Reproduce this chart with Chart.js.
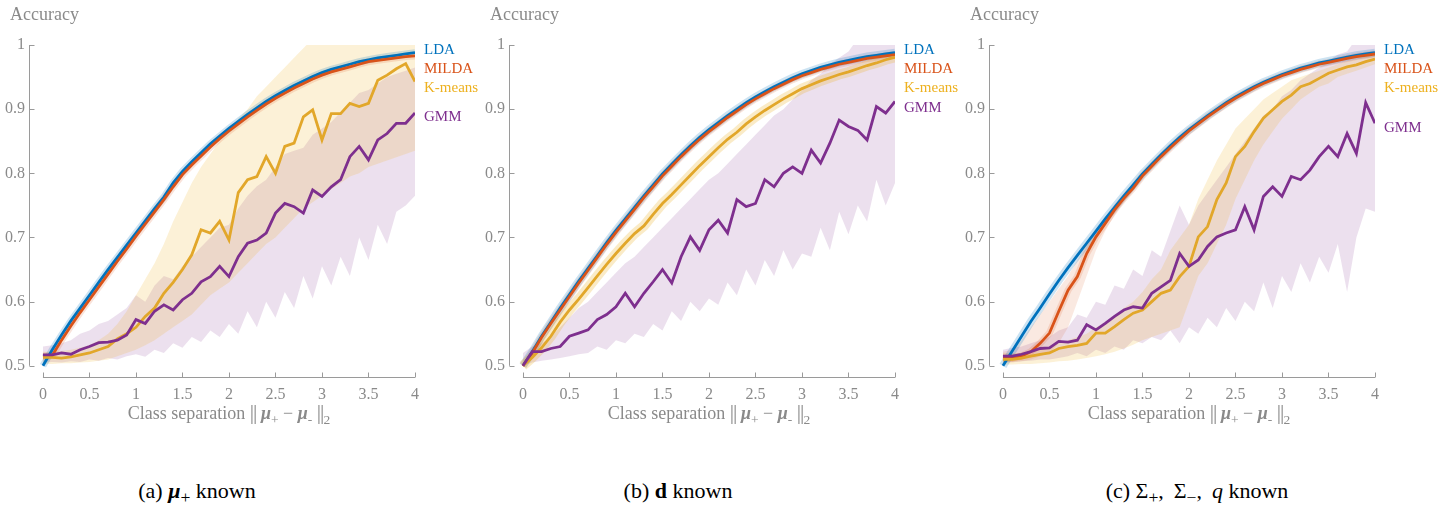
<!DOCTYPE html>
<html>
<head>
<meta charset="utf-8">
<script src="https://cdn.jsdelivr.net/npm/chart.js@4.4.1/dist/chart.umd.min.js"></script>
<style>
    body { margin: 0; background: #fff; width: 1455px; height: 508px; position: relative; overflow: hidden; font-family: "Liberation Serif", serif; }
    .panel { position: absolute; top: 0; width: 480px; height: 440px; }
    .panel canvas { position: absolute; left: 0; top: 0; }
    .ytitle { position: absolute; left: 10px; top: 4px; font-size: 18px; color: #8a8a8a; }
    .xtitle { position: absolute; left: 43px; top: 402px; width: 372px; text-align: center; font-size: 18px; color: #8a8a8a; white-space: nowrap; }
    .xtitle sub { font-size: 75%; }
    .xtitle .norm { font-size: 120%; letter-spacing: -1px; line-height: 1; }
    .cap sub { font-size: 80%; }
    .cap { position: absolute; top: 478px; width: 400px; text-align: center; font-size: 22px; color: #000; white-space: nowrap; }
</style>
</head>
<body>

<div class="panel" style="left:0px">
    <canvas id="chartA" width="480" height="440"></canvas>
    <div class="ytitle">Accuracy</div>
    <div class="xtitle">Class separation <span class="norm">||</span> <b><i>μ</i></b><sub>+</sub> − <b><i>μ</i></b><sub>-</sub> <span class="norm">||</span><sub>2</sub></div>
</div>
<div class="panel" style="left:480px">
    <canvas id="chartB" width="480" height="440"></canvas>
    <div class="ytitle">Accuracy</div>
    <div class="xtitle">Class separation <span class="norm">||</span> <b><i>μ</i></b><sub>+</sub> − <b><i>μ</i></b><sub>-</sub> <span class="norm">||</span><sub>2</sub></div>
</div>
<div class="panel" style="left:960px">
    <canvas id="chartC" width="480" height="440"></canvas>
    <div class="ytitle">Accuracy</div>
    <div class="xtitle">Class separation <span class="norm">||</span> <b><i>μ</i></b><sub>+</sub> − <b><i>μ</i></b><sub>-</sub> <span class="norm">||</span><sub>2</sub></div>
</div>

<div class="cap" style="left:-3px">(a) <b><i>μ</i></b><sub>+</sub> known</div>
<div class="cap" style="left:478px">(b) <b>d</b> known</div>
<div class="cap" style="left:997px">(c) Σ<sub>+</sub>, &thinsp;Σ<sub>−</sub>, &thinsp;<i>q</i> known</div>

<script>
// ---- data ----
const xs = [0, 0.1, 0.2, 0.3, 0.4, 0.5, 0.6, 0.7, 0.8, 0.9, 1, 1.1, 1.2, 1.3, 1.4, 1.5, 1.6, 1.7, 1.8, 1.9, 2,
            2.1, 2.2, 2.3, 2.4, 2.5, 2.6, 2.7, 2.8, 2.9, 3, 3.1, 3.2, 3.3, 3.4, 3.5, 3.6, 3.7, 3.8, 3.9, 4];
const xTicks = [0, 0.5, 1, 1.5, 2, 2.5, 3, 3.5, 4];
const yTicks = [0.5, 0.6, 0.7, 0.8, 0.9, 1];
const methods = ["LDA", "MILDA", "K-means", "GMM"];

// (a) mu+ known
const ldaA = [0.500,0.525,0.548,0.570,0.590,0.610,0.630,0.650,0.669,0.688,0.707,0.726,0.745,0.763,0.785,0.803,0.818,0.832,0.846,0.858,0.870,0.881,0.892,0.902,0.912,0.921,0.929,0.937,0.944,0.951,0.957,0.962,0.966,0.970,0.974,0.977,0.980,0.982,0.984,0.986,0.988];
const mildaA = [0.515,0.516,0.540,0.562,0.583,0.603,0.623,0.643,0.663,0.682,0.702,0.721,0.740,0.759,0.779,0.798,0.813,0.827,0.841,0.854,0.866,0.877,0.888,0.898,0.908,0.917,0.925,0.933,0.940,0.947,0.953,0.958,0.962,0.966,0.970,0.974,0.976,0.978,0.980,0.982,0.983];
const kmeansA = [0.513,0.513,0.512,0.514,0.517,0.520,0.525,0.530,0.542,0.550,0.560,0.577,0.590,0.613,0.630,0.650,0.673,0.712,0.707,0.725,0.696,0.770,0.790,0.795,0.826,0.800,0.842,0.847,0.888,0.899,0.852,0.893,0.893,0.909,0.904,0.909,0.945,0.953,0.963,0.971,0.943];
const gmmA = [0.517,0.517,0.520,0.518,0.525,0.530,0.536,0.537,0.540,0.548,0.572,0.566,0.585,0.595,0.587,0.603,0.613,0.631,0.639,0.655,0.639,0.670,0.691,0.696,0.707,0.738,0.753,0.748,0.738,0.774,0.764,0.779,0.790,0.826,0.842,0.821,0.852,0.862,0.878,0.878,0.894];
const kmeansHiA = [0.522,0.522,0.523,0.525,0.528,0.532,0.540,0.550,0.565,0.585,0.610,0.635,0.660,0.690,0.725,0.755,0.785,0.810,0.830,0.850,0.865,0.885,0.900,0.920,0.935,0.950,0.965,0.980,0.995,1.01,1.01,1.01,1.01,1.01,1.01,1.01,1.01,1.01,1.01,1.01,1.01];
const kmeansLoA = [0.503,0.503,0.504,0.504,0.505,0.506,0.508,0.510,0.515,0.520,0.525,0.532,0.540,0.550,0.560,0.570,0.580,0.595,0.610,0.620,0.630,0.645,0.660,0.675,0.690,0.700,0.715,0.730,0.745,0.755,0.765,0.775,0.785,0.795,0.800,0.810,0.815,0.820,0.825,0.830,0.835];
const gmmHiA = [0.530,0.532,0.535,0.540,0.550,0.555,0.565,0.570,0.580,0.590,0.610,0.600,0.625,0.640,0.635,0.655,0.670,0.685,0.700,0.715,0.720,0.745,0.765,0.780,0.790,0.810,0.830,0.835,0.840,0.860,0.870,0.880,0.895,0.910,0.925,0.930,0.940,0.950,0.955,0.960,0.965];
const gmmLoA = [0.505,0.506,0.505,0.507,0.506,0.510,0.508,0.512,0.510,0.515,0.518,0.514,0.525,0.520,0.535,0.528,0.545,0.537,0.555,0.545,0.565,0.550,0.585,0.560,0.600,0.575,0.615,0.590,0.640,0.605,0.655,0.625,0.670,0.640,0.700,0.665,0.720,0.690,0.740,0.750,0.765];
const labelYA = [0.992, 0.963, 0.933, 0.888];

// (b) d known
const ldaB = [0.500,0.522,0.546,0.568,0.590,0.611,0.632,0.652,0.672,0.692,0.711,0.729,0.747,0.765,0.782,0.799,0.814,0.829,0.843,0.856,0.868,0.879,0.890,0.900,0.910,0.919,0.927,0.935,0.942,0.949,0.955,0.960,0.965,0.969,0.973,0.976,0.979,0.982,0.984,0.986,0.988];
const mildaB = [0.500,0.520,0.544,0.566,0.587,0.608,0.629,0.649,0.669,0.689,0.708,0.726,0.744,0.762,0.779,0.796,0.811,0.826,0.840,0.853,0.865,0.876,0.887,0.897,0.907,0.916,0.924,0.932,0.939,0.946,0.952,0.957,0.962,0.966,0.970,0.973,0.976,0.979,0.981,0.983,0.985];
const kmeansB = [0.500,0.513,0.528,0.546,0.568,0.587,0.604,0.622,0.640,0.658,0.675,0.691,0.706,0.718,0.736,0.753,0.767,0.782,0.797,0.812,0.826,0.840,0.853,0.864,0.877,0.888,0.898,0.907,0.916,0.924,0.932,0.938,0.944,0.949,0.954,0.958,0.963,0.968,0.972,0.977,0.981];
const gmmB = [0.500,0.522,0.522,0.527,0.530,0.546,0.551,0.556,0.572,0.580,0.592,0.613,0.592,0.613,0.631,0.650,0.629,0.670,0.701,0.680,0.712,0.727,0.707,0.759,0.748,0.753,0.790,0.779,0.800,0.810,0.800,0.836,0.816,0.847,0.883,0.873,0.867,0.852,0.904,0.894,0.912];
const gmmHiB = [0.520,0.530,0.535,0.545,0.560,0.575,0.590,0.600,0.615,0.630,0.645,0.660,0.670,0.685,0.700,0.715,0.730,0.745,0.760,0.775,0.790,0.800,0.815,0.830,0.845,0.860,0.875,0.890,0.900,0.915,0.930,0.945,0.955,0.970,0.980,0.990,1.01,1.01,1.01,1.01,1.01];
const gmmLoB = [0.500,0.505,0.508,0.510,0.512,0.515,0.518,0.520,0.530,0.525,0.540,0.535,0.550,0.545,0.565,0.555,0.585,0.570,0.600,0.585,0.605,0.595,0.630,0.610,0.650,0.625,0.665,0.640,0.680,0.650,0.675,0.670,0.715,0.680,0.740,0.705,0.750,0.725,0.790,0.750,0.785];
const labelYB = [0.992, 0.963, 0.933, 0.902];

// (c) Sigma+, Sigma-, q known
const ldaC = [0.500,0.523,0.546,0.569,0.590,0.612,0.633,0.653,0.672,0.691,0.710,0.729,0.747,0.765,0.782,0.799,0.814,0.829,0.843,0.856,0.868,0.879,0.890,0.900,0.910,0.919,0.927,0.935,0.942,0.948,0.954,0.959,0.964,0.968,0.972,0.975,0.978,0.981,0.984,0.986,0.988];
const mildaC = [0.512,0.512,0.515,0.522,0.535,0.551,0.585,0.618,0.639,0.675,0.701,0.722,0.743,0.761,0.777,0.796,0.811,0.826,0.840,0.853,0.866,0.877,0.888,0.898,0.908,0.917,0.925,0.933,0.940,0.946,0.952,0.957,0.962,0.966,0.970,0.973,0.976,0.979,0.982,0.984,0.986];
const kmeansC = [0.510,0.510,0.512,0.515,0.518,0.520,0.527,0.530,0.532,0.535,0.551,0.551,0.561,0.572,0.582,0.587,0.600,0.613,0.618,0.639,0.655,0.701,0.717,0.759,0.785,0.826,0.842,0.865,0.886,0.899,0.912,0.922,0.935,0.940,0.948,0.956,0.961,0.966,0.969,0.974,0.978];
const gmmC = [0.515,0.515,0.518,0.522,0.527,0.528,0.538,0.537,0.540,0.564,0.556,0.566,0.577,0.587,0.592,0.590,0.613,0.623,0.633,0.675,0.655,0.665,0.686,0.701,0.707,0.712,0.748,0.712,0.764,0.779,0.764,0.795,0.790,0.805,0.826,0.842,0.826,0.862,0.831,0.910,0.878];
const mildaHiC = [0.522,0.525,0.540,0.560,0.580,0.600,0.620,0.640,0.665,0.690,0.710,0.730,0.748,0.766,0.783,0.800,0.815];
const mildaLoC = [0.505,0.505,0.507,0.510,0.515,0.520,0.535,0.560,0.600,0.640,0.680,0.710,0.735,0.755,0.772,0.792,0.807];
const kmeansHiC = [0.520,0.520,0.520,0.522,0.525,0.528,0.535,0.540,0.545,0.550,0.560,0.565,0.575,0.590,0.600,0.615,0.635,0.650,0.680,0.700,0.720,0.760,0.790,0.820,0.845,0.870,0.885,0.900,0.915,0.925,0.935,0.945,0.950,0.955,0.960,0.965,0.970,0.975,0.978,0.982,0.985];
const kmeansLoC = [0.502,0.502,0.503,0.503,0.504,0.505,0.507,0.508,0.510,0.512,0.515,0.518,0.522,0.527,0.533,0.540,0.545,0.550,0.555,0.560,0.600,0.640,0.660,0.690,0.720,0.760,0.790,0.820,0.845,0.865,0.885,0.900,0.915,0.925,0.935,0.940,0.950,0.955,0.960,0.965,0.970];
const gmmHiC = [0.525,0.528,0.530,0.535,0.540,0.545,0.555,0.560,0.580,0.575,0.600,0.595,0.625,0.620,0.650,0.640,0.680,0.670,0.710,0.750,0.720,0.750,0.770,0.790,0.810,0.830,0.850,0.870,0.890,0.900,0.920,0.930,0.945,0.955,0.965,0.975,0.985,0.990,1.01,1.01,1.01];
const gmmLoC = [0.505,0.506,0.507,0.508,0.510,0.510,0.512,0.515,0.520,0.515,0.525,0.520,0.530,0.525,0.540,0.535,0.545,0.540,0.555,0.535,0.560,0.550,0.575,0.560,0.590,0.570,0.600,0.585,0.630,0.590,0.640,0.615,0.660,0.630,0.670,0.645,0.690,0.615,0.700,0.745,0.740];
const labelYC = [0.992, 0.963, 0.933, 0.871];

// ---- styles ----
const colors = ["#0072BD", "#D95319", "#EDB120", "#7E2F8E"];
const lineColors = ["#0072BD", "#D95319", "#E2A72A", "#7E2F8E"];
const haloColors = ["rgba(0,114,189,0.20)", "rgba(217,83,25,0.16)", "rgba(237,177,32,0.25)", "rgba(126,47,142,0.15)"];
const bandColors = ["rgba(0,114,189,0.15)", "rgba(217,83,25,0.13)", "rgba(237,177,32,0.18)", "rgba(126,47,142,0.15)"];
const axisColor = "#9a9a9a";
const textColor = "#8a8a8a";

function pts(values) {
    return values.map((v, i) => ({ x: xs[i], y: v }));
}

// axis lines drawn detached from the plot, ticks pointing inwards
const detachedAxes = {
    id: 'detachedAxes',
    afterDraw(chart) {
        const { ctx, chartArea } = chart;
        const x = chart.scales.x, y = chart.scales.y;
        ctx.save();
        ctx.strokeStyle = axisColor;
        ctx.lineWidth = 1;
        const ax = Math.round(chartArea.left) + 0.5;
        const ay = Math.round(chartArea.bottom) - 0.5;
        ctx.beginPath();
        ctx.moveTo(ax, y.getPixelForValue(yTicks[yTicks.length - 1]));
        ctx.lineTo(ax, y.getPixelForValue(yTicks[0]));
        yTicks.forEach(v => {
            const py = Math.round(y.getPixelForValue(v)) + 0.5;
            ctx.moveTo(ax, py);
            ctx.lineTo(ax + 5, py);
        });
        ctx.moveTo(x.getPixelForValue(xTicks[0]), ay);
        ctx.lineTo(x.getPixelForValue(xTicks[xTicks.length - 1]), ay);
        xTicks.forEach(v => {
            const px = Math.round(x.getPixelForValue(v)) + 0.5;
            ctx.moveTo(px, ay);
            ctx.lineTo(px, ay - 5);
        });
        ctx.stroke();
        ctx.restore();
    }
};

// method names next to the right end of the curves
const endLabels = {
    id: 'endLabels',
    afterDatasetsDraw(chart, args, opts) {
        const { ctx, chartArea } = chart;
        const y = chart.scales.y;
        ctx.save();
        ctx.font = '15px "Liberation Serif", serif';
        ctx.textAlign = 'left';
        ctx.textBaseline = 'middle';
        methods.forEach((name, i) => {
            ctx.fillStyle = colors[i];
            ctx.fillText(name, chartArea.right + 9, y.getPixelForValue(opts.pos[i]));
        });
        ctx.restore();
    }
};

function band(hi, lo, colorIndex, order) {
    return [
        { data: pts(hi), fill: '+1', backgroundColor: bandColors[colorIndex], borderWidth: 0, pointRadius: 0, order: order },
        { data: pts(lo), fill: false, borderWidth: 0, pointRadius: 0, order: order }
    ];
}

function halo(values, colorIndex, width, order) {
    return { data: pts(values), borderColor: haloColors[colorIndex], borderWidth: width, pointRadius: 0, fill: false, order: order };
}

function line(values, colorIndex, order) {
    return { data: pts(values), borderColor: lineColors[colorIndex], borderWidth: 2.8, pointRadius: 0, fill: false, order: order };
}

function createPanelChart(canvasId, datasets, labelPos) {
    new Chart(document.getElementById(canvasId), {
        type: 'line',
        data: { datasets: datasets },
        options: {
            responsive: false,
            animation: false,
            devicePixelRatio: 1,
            layout: { padding: { left: 0, top: 45, right: 65, bottom: 0 } },
            plugins: {
                legend: { display: false },
                tooltip: { enabled: false },
                endLabels: { pos: labelPos }
            },
            scales: {
                x: {
                    type: 'linear',
                    min: -0.15,
                    max: 4,
                    afterBuildTicks: s => { s.ticks = xTicks.map(v => ({ value: v })); },
                    afterFit: s => { s.height = 62; },
                    grid: { display: false, drawTicks: false },
                    border: { display: false },
                    ticks: {
                        autoSkip: false, maxRotation: 0, padding: 7, color: textColor,
                        font: { family: '"Liberation Serif", serif', size: 16 },
                        callback: v => String(v)
                    }
                },
                y: {
                    type: 'linear',
                    min: 0.481,
                    max: 1,
                    afterBuildTicks: s => { s.ticks = yTicks.map(v => ({ value: v })); },
                    afterFit: s => { s.width = 29; },
                    grid: { display: false, drawTicks: false },
                    border: { display: false },
                    ticks: {
                        padding: 4, color: textColor,
                        font: { family: '"Liberation Serif", serif', size: 16 },
                        callback: v => String(v)
                    }
                }
            }
        },
        plugins: [detachedAxes, endLabels]
    });
}

createPanelChart('chartA', [
    line(gmmA, 3, 1), line(kmeansA, 2, 2), line(mildaA, 1, 3), line(ldaA, 0, 4),
    halo(mildaA, 1, 7, 5), halo(ldaA, 0, 7, 6),
    ...band(kmeansHiA, kmeansLoA, 2, 7),
    ...band(gmmHiA, gmmLoA, 3, 8)
], labelYA);

createPanelChart('chartB', [
    line(gmmB, 3, 1), line(kmeansB, 2, 2), line(mildaB, 1, 3), line(ldaB, 0, 4),
    halo(kmeansB, 2, 10, 5), halo(mildaB, 1, 7, 5), halo(ldaB, 0, 8, 6),
    ...band(gmmHiB, gmmLoB, 3, 8)
], labelYB);

createPanelChart('chartC', [
    line(gmmC, 3, 1), line(kmeansC, 2, 2), line(mildaC, 1, 3), line(ldaC, 0, 4),
    halo(mildaC, 1, 7, 5), halo(ldaC, 0, 8, 6),
    ...band(mildaHiC, mildaLoC, 1, 7),
    ...band(kmeansHiC, kmeansLoC, 2, 7),
    ...band(gmmHiC, gmmLoC, 3, 8)
], labelYC);
</script>
</body>
</html>
